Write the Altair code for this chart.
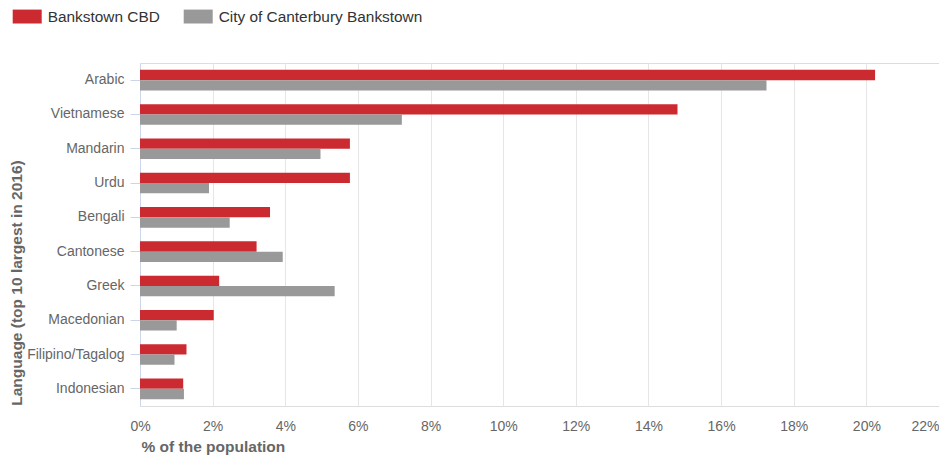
import altair as alt
import pandas as pd

languages = ["Arabic", "Vietnamese", "Mandarin", "Urdu", "Bengali", "Cantonese",
             "Greek", "Macedonian", "Filipino/Tagalog", "Indonesian"]
bankstown_cbd = [20.24, 14.80, 5.78, 5.78, 3.58, 3.21, 2.18, 2.03, 1.28, 1.19]
canterbury_bankstown = [17.25, 7.21, 4.97, 1.90, 2.47, 3.93, 5.36, 1.01, 0.95, 1.21]
series = ["Bankstown CBD", "City of Canterbury Bankstown"]
colors = ["#cc2a31", "#999999"]
x_ticks = list(range(0, 23, 2))

rows = []
for i, lang in enumerate(languages):
    rows.append({"language": lang, "series": series[0], "value": bankstown_cbd[i]})
    rows.append({"language": lang, "series": series[1], "value": canterbury_bankstown[i]})
df = pd.DataFrame(rows)

FONT = "Liberation Sans"
LEFT = 132  # plot origin = 8 + LEFT in page pixels

chart = alt.Chart(df).mark_bar().encode(
    y=alt.Y(
        "language:N",
        sort=languages,
        scale=alt.Scale(paddingInner=0.4, paddingOuter=0.2),
        axis=alt.Axis(
            title="Language (top 10 largest in 2016)",
            titleFont=FONT, titleFontSize=15.5, titleFontWeight="bold", titleColor="#666666",
            titleAngle=270, titleAlign="center", titleBaseline="top",
            titleX=-(LEFT - 1), titleY=219.5,
            labelFont=FONT, labelFontSize=14, labelColor="#666666", labelPadding=6,
            ticks=True, tickSize=10, tickColor="#ccd6eb",
            domain=True, domainColor="#ccd6eb",
            grid=False,
        ),
    ),
    yOffset=alt.YOffset("series:N", sort=series, scale=alt.Scale(paddingInner=0, paddingOuter=0)),
    x=alt.X(
        "value:Q",
        scale=alt.Scale(domain=[0, 22], nice=False, zero=True),
        axis=alt.Axis(
            values=x_ticks,
            labelExpr="datum.value + '%'",
            labelFont=FONT, labelFontSize=14, labelColor="#666666", labelPadding=13,
            labelAlign={"condition": {"test": "datum.value >= 22", "value": "right"}, "value": "center"},
            labelOverlap=False, labelBound=False, labelFlush=False,
            ticks=False, tickSize=0, domain=False,
            grid=True, gridColor="#e6e6e6", gridWidth=1,
            title="% of the population",
            titleFont=FONT, titleFontSize=15.5, titleFontWeight="bold", titleColor="#666666",
            titleAnchor="start", titleAlign="left", titleBaseline="middle",
            titleX=1, titleY=40.5,
        ),
    ),
    color=alt.Color(
        "series:N",
        sort=series,
        scale=alt.Scale(domain=series, range=colors),
        legend=alt.Legend(
            title=None, orient="none", legendX=12.7 - (8 + LEFT), legendY=-61,
            direction="horizontal",
            symbolType="M-1,-0.48H1V0.48H-1Z", symbolSize=841, symbolStrokeWidth=0,
            symbolOpacity=1,
            labelFont=FONT, labelFontSize=15.4, labelColor="#333333", labelLimit=400,
            labelOffset=6, columnPadding=23, padding=0,
        ),
    ),
).properties(
    width=931 - LEFT,
    height=343,
    padding={"left": LEFT, "top": 55, "right": 0, "bottom": 50},
    autosize=alt.AutoSizeParams(type="none"),
).configure_view(stroke=None).configure(background="white")

chart.save("out.html", embed_options={"renderer": "svg", "actions": False})
